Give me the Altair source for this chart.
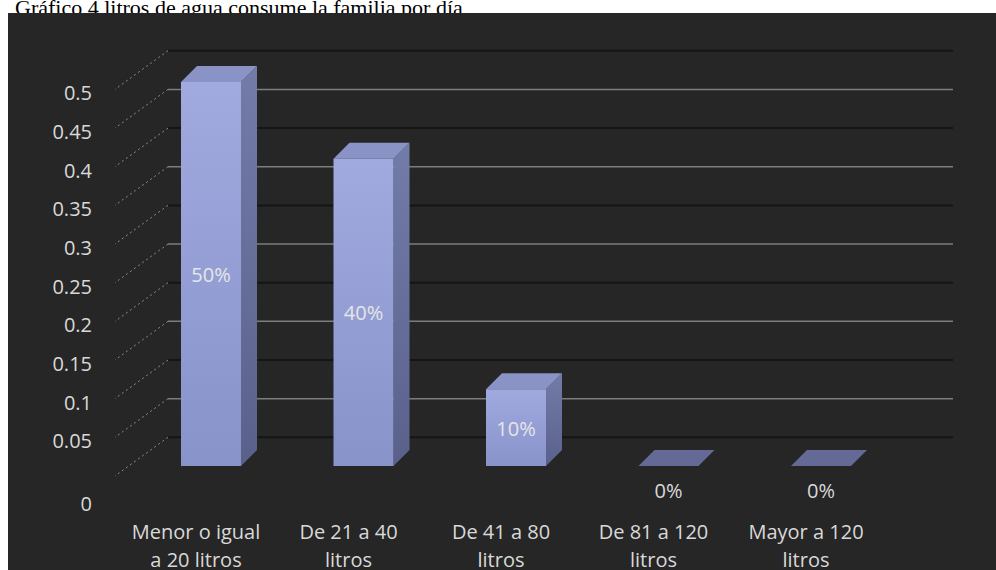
import altair as alt
import pandas as pd

# ---- data -------------------------------------------------------------
categories = [
    "Menor o igual\na 20 litros",
    "De 21 a 40\nlitros",
    "De 41 a 80\nlitros",
    "De 81 a 120\nlitros",
    "Mayor a 120\nlitros",
]
shares = [0.5, 0.4, 0.1, 0.0, 0.0]
pct_labels = ["50%", "40%", "10%", "0%", "0%"]

tick_values = [0.05, 0.1, 0.15, 0.2, 0.25, 0.3, 0.35, 0.4, 0.45, 0.5]
tick_labels = ["0.05", "0.1", "0.15", "0.2", "0.25", "0.3", "0.35", "0.4", "0.45", "0.5"]
grid_light = [0.1, 0.2, 0.3, 0.4, 0.5]
grid_dark = [0.05, 0.15, 0.25, 0.35, 0.45, 0.55]

title_text = "Gráfico 4 litros de agua consume la familia por día"

# ---- geometry of the pseudo-3D columns (pixels) -------------------------
CAT_PX = 152.5          # distance between category slots
BAR_PX = 60             # width of the front face
BAR_SHIFT = 15          # front face sits to the right of the slot centre
DEPTH = 16              # oblique depth of the columns
Y_PX_PER_UNIT = 768.0   # vertical pixels per 1.0 on the front plane

half_w = BAR_PX / 2 / CAT_PX
shift = BAR_SHIFT / CAT_PX
dx = DEPTH / CAT_PX
dv = DEPTH / Y_PX_PER_UNIT

x_scale = alt.Scale(domain=[0, 5], range=[119.75, 882.25])
y_front = alt.Scale(domain=[0, 0.5], range=[466, 82])
y_wall = alt.Scale(domain=[0, 0.5], range=[476, 89.4])

FONT = "Open Sans"
TXT = "#d9d9d9"

# ---- tables built from the arrays --------------------------------------
front = pd.DataFrame({
    "cat": categories,
    "v": shares,
    "pct": pct_labels,
    "slot": [i + 0.5 for i in range(len(categories))],
})
front["xl"] = front["slot"] + shift - half_w
front["xr"] = front["slot"] + shift + half_w
front["xc"] = front["slot"] + shift

side_rows, top_rows = [], []
for rec in front.to_dict("records"):
    c, v, xl, xr = rec["cat"], rec["v"], rec["xl"], rec["xr"]
    side_rows.append({"cat": c, "x": xr, "y": v, "y2": 0.0})
    side_rows.append({"cat": c, "x": xr + dx, "y": v + dv, "y2": dv})
    top_rows.append({"cat": c, "v": v, "y": v, "x": xl, "x2": xr})
    top_rows.append({"cat": c, "v": v, "y": v + dv, "x": xl + dx, "x2": xr + dx})
side = pd.DataFrame(side_rows)
top = pd.DataFrame(top_rows)

ticks = pd.DataFrame({"v": tick_values, "label": tick_labels})
diag = pd.DataFrame({"v": grid_dark + grid_light})
diag["v2"] = diag["v"] - 0.05
one = alt.Data(values=[{"k": 1}])

# ---- layers -------------------------------------------------------------
title = alt.Chart(one).mark_text(
    text=title_text, font="Liberation Serif", fontSize=22, color="#000000",
    align="left", baseline="alphabetic",
).encode(x=alt.value(15), y=alt.value(15))

panel = alt.Chart(one).mark_rect(color="#262626").encode(
    x=alt.value(8), x2=alt.value(996), y=alt.value(13), y2=alt.value(570)
)

wall_dark = alt.Chart(pd.DataFrame({"v": grid_dark})).mark_rule(
    color="#151515", strokeWidth=2
).encode(
    y=alt.Y("v:Q", scale=y_wall, axis=None), x=alt.value(168), x2=alt.value(953)
)

wall_light = alt.Chart(pd.DataFrame({"v": grid_light})).mark_rule(
    color="#7d7d7d", strokeWidth=1.5
).encode(
    y=alt.Y("v:Q", scale=y_wall, axis=None), x=alt.value(168), x2=alt.value(953)
)

floor_diag = alt.Chart(diag).mark_rule(
    color="#8c8c8c", strokeWidth=1, strokeDash=[2, 3]
).encode(
    y=alt.Y("v:Q", scale=y_wall, axis=None), y2="v2:Q",
    x=alt.value(168), x2=alt.value(115),
)

tick_text = alt.Chart(ticks).mark_text(
    font=FONT, fontSize=20, color=TXT, align="right", baseline="middle", dy=5
).encode(
    y=alt.Y("v:Q", scale=y_wall, axis=None), x=alt.value(92), text="label:N"
)

zero_tick = alt.Chart(pd.DataFrame({"v": [0.0], "label": ["0"]})).mark_text(
    font=FONT, fontSize=20, color=TXT, align="right", baseline="middle", dy=29
).encode(
    y=alt.Y("v:Q", scale=y_wall, axis=None), x=alt.value(92), text="label:N"
)

side_face = alt.Chart(side).mark_area(
    color=alt.Gradient(
        gradient="linear", x1=0, x2=0, y1=0, y2=1,
        stops=[alt.GradientStop(color="#737ca9", offset=0),
               alt.GradientStop(color="#59618b", offset=1)],
    ),
    interpolate="linear",
).encode(
    x=alt.X("x:Q", scale=x_scale, axis=None),
    y=alt.Y("y:Q", scale=y_front, axis=None),
    y2="y2:Q",
    detail="cat:N",
)

top_face = alt.Chart(top).mark_area(orient="horizontal", interpolate="linear").encode(
    y=alt.Y("y:Q", scale=y_front, axis=None),
    x=alt.X("x:Q", scale=x_scale, axis=None),
    x2="x2:Q",
    detail="cat:N",
    color=alt.condition("datum.v == 0", alt.value("#646a95"), alt.value("#8a93c5")),
)

front_face = alt.Chart(front).mark_bar(
    color=alt.Gradient(
        gradient="linear", x1=0, x2=0, y1=0, y2=1,
        stops=[alt.GradientStop(color="#a0aadf", offset=0),
               alt.GradientStop(color="#8893ca", offset=1)],
    )
).encode(
    x=alt.X("xl:Q", scale=x_scale, axis=None),
    x2="xr:Q",
    y=alt.Y("v:Q", scale=y_front, axis=None),
    y2=alt.datum(0),
)

pct_on_bar = alt.Chart(front).transform_filter("datum.v > 0").transform_calculate(
    mid="datum.v / 2"
).mark_text(font=FONT, fontSize=20, color="#e6e6e6", baseline="middle", dy=2).encode(
    x=alt.X("xc:Q", scale=x_scale, axis=None),
    y=alt.Y("mid:Q", scale=y_front, axis=None),
    text="pct:N",
)

pct_zero = alt.Chart(front).transform_filter("datum.v == 0").mark_text(
    font=FONT, fontSize=20, color=TXT, baseline="middle", dy=26
).encode(
    x=alt.X("xc:Q", scale=x_scale, axis=None),
    y=alt.Y("v:Q", scale=y_front, axis=None),
    text="pct:N",
)

cat_text = alt.Chart(front).mark_text(
    font=FONT, fontSize=20, color=TXT, align="center", baseline="alphabetic",
    lineBreak="\n", lineHeight=28,
).encode(
    x=alt.X("slot:Q", scale=x_scale, axis=None),
    y=alt.value(539),
    text="cat:N",
)

chart = alt.layer(
    title, panel, wall_dark, wall_light, floor_diag, tick_text, zero_tick,
    side_face, top_face, front_face, pct_on_bar, pct_zero, cat_text,
).resolve_scale(y="independent").properties(
    width=996, height=570, padding=0, background="#ffffff",
    autosize=alt.AutoSizeParams(type="none"),
).configure_view(stroke=None)

chart.save("out.html", embed_options={"renderer": "svg", "actions": False})
